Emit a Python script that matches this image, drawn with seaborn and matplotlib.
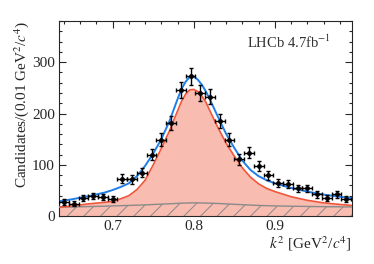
import numpy as np
import pandas as pd
import matplotlib
matplotlib.use("Agg")
import matplotlib.pyplot as plt
from matplotlib.ticker import MultipleLocator
import seaborn as sns

# data points (bin centres and candidate counts)
bin_centres = [0.640, 0.652, 0.664, 0.676, 0.688, 0.700, 0.712, 0.724, 0.736, 0.748,
               0.760, 0.772, 0.784, 0.796, 0.808, 0.820, 0.832, 0.844, 0.856, 0.868,
               0.880, 0.892, 0.904, 0.916, 0.928, 0.940, 0.952, 0.964, 0.976, 0.988]
counts = [28, 24, 35, 39, 37, 33, 73, 72, 85, 120,
          149, 182, 245, 273, 240, 233, 185, 149, 111, 124,
          97, 80, 64, 63, 54, 54, 43, 36, 43, 34]
bin_half_width = 0.006

# fit curves
curve_k2 = [0.634, 0.65, 0.67, 0.69, 0.70, 0.71, 0.72, 0.73, 0.74, 0.75,
            0.76, 0.77, 0.78, 0.785, 0.79, 0.795, 0.80, 0.805, 0.81, 0.815,
            0.82, 0.83, 0.84, 0.85, 0.86, 0.87, 0.88, 0.89, 0.90, 0.92,
            0.94, 0.96, 0.98, 0.995]
total_fit = [29, 33, 39, 46, 51, 57, 64, 78, 98, 122,
             150, 185, 228, 248, 262, 271, 272, 266, 256, 243,
             227, 193, 160, 133, 108, 90, 78, 70, 64, 55,
             48, 42, 38, 35]
signal_fit = [17.5, 20, 24, 27, 29, 34, 40, 52, 70, 100,
              132, 166, 205, 224, 238, 246, 247, 243, 234, 222,
              205, 172, 142, 117, 94, 76, 63, 54, 48, 38,
              31, 26, 23, 21]
background = [17.5, 18, 18.8, 19.5, 20, 20.5, 21, 21.5, 22, 22.8,
              23.5, 24.2, 25, 25.4, 25.7, 25.9, 26, 25.9, 25.8, 25.6,
              25.4, 24.8, 24, 23.2, 22.4, 21.7, 21, 20.5, 20.1, 19.5,
              19, 18.6, 18.3, 18]

df = pd.DataFrame({"k2": curve_k2, "total": total_fit,
                   "signal": signal_fit, "bkg": background})
pts = pd.DataFrame({"k2": bin_centres, "n": counts})

sns.set_theme(style="ticks")
plt.rcParams["font.family"] = ["Liberation Serif", "DejaVu Serif"]
plt.rcParams["mathtext.fontset"] = "stix"
plt.rcParams["hatch.linewidth"] = 0.7
plt.rcParams["hatch.color"] = "#8a8a8a"

fig = plt.figure(figsize=(3.74, 2.64), dpi=100)
ax = fig.add_axes([0.158, 0.181, 0.783, 0.739])

pink = "#f9bcb0"
ax.fill_between(df["k2"], 0, df["signal"], color=pink, linewidth=0, zorder=1)
ax.fill_between(df["k2"], 0, df["bkg"], facecolor="none", edgecolor="#8a8a8a",
                hatch="//", linewidth=0, zorder=2)
sns.lineplot(data=df, x="k2", y="bkg", color="#8a8a8a", lw=1.0, ax=ax, zorder=3)
sns.lineplot(data=df, x="k2", y="signal", color="#f2553a", lw=1.2, ax=ax, zorder=4)
sns.lineplot(data=df, x="k2", y="total", color="#1f7fe6", lw=1.4, ax=ax, zorder=5)

ax.errorbar(pts["k2"], pts["n"], yerr=np.sqrt(pts["n"]), xerr=bin_half_width,
            fmt="o", color="black", ms=2.5, elinewidth=1.0, capsize=1.5,
            capthick=1.0, zorder=6)

ax.set_xlim(0.634, 0.995)
ax.set_ylim(0, 380)
ax.xaxis.set_major_locator(MultipleLocator(0.1))
ax.xaxis.set_minor_locator(MultipleLocator(0.02))
ax.yaxis.set_major_locator(MultipleLocator(100))
ax.yaxis.set_minor_locator(MultipleLocator(20))
ax.tick_params(which="both", direction="in", top=True, right=True,
               labelsize=11, width=0.8, pad=3)
ax.tick_params(which="major", length=5)
ax.tick_params(which="minor", length=2.5)
for s in ax.spines.values():
    s.set_linewidth(0.8)

ax.set_xlabel(r"$k^2$ [GeV$^2$/$c^4$]", loc="right", fontsize=11, labelpad=1)
ax.set_ylabel(r"Candidates/(0.01 GeV$^2$/$c^4$)", loc="top", fontsize=11,
              labelpad=1)
ax.text(0.64, 0.86, r"LHCb 4.7fb$^{-1}$", transform=ax.transAxes,
        fontsize=10.5, color="#333333")

fig.savefig("out.png", dpi=100)
